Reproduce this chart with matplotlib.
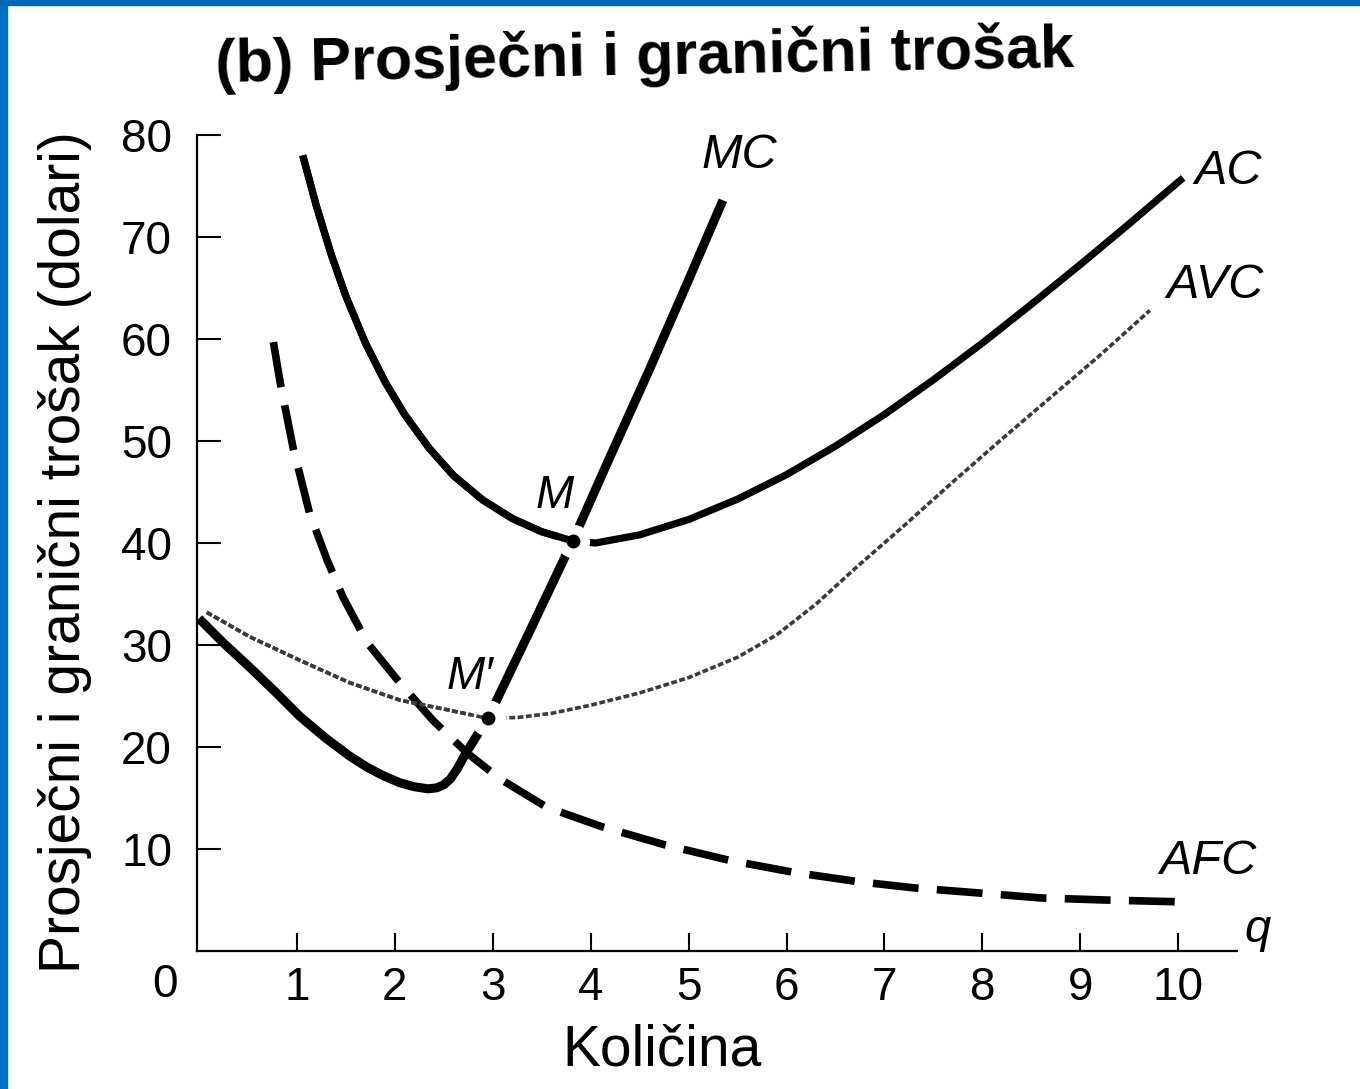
import matplotlib
matplotlib.use("Agg")
import matplotlib.pyplot as plt
from matplotlib.patches import Rectangle

plt.rcParams['font.family'] = ['Liberation Sans', 'DejaVu Sans']

# ---- data ----
mc_q = [0.0, 0.25, 0.52, 0.78, 1.03, 1.29, 1.54, 1.72, 1.88, 2.05, 2.2, 2.34, 2.43, 2.5, 2.57, 2.64, 2.72, 2.83, 2.95,
        3.4, 3.82, 4.2, 4.6, 5.0, 5.35]
mc_c = [32.6, 30.2, 27.8, 25.4, 23.0, 20.9, 19.1, 18.0, 17.2, 16.5, 16.1, 15.9, 16.0, 16.3, 16.9, 17.9, 19.3, 21.0, 22.8,
        31.8, 40.3, 48.5, 57.0, 65.8, 73.6]

ac_q = [1.06, 1.2, 1.35, 1.5, 1.7, 1.9, 2.1, 2.35, 2.6, 2.9, 3.2, 3.5, 3.82,
        4.05, 4.5, 5.0, 5.5, 6.0, 6.5, 7.0, 7.5, 8.0, 8.5, 9.0, 9.5, 10.05]
ac_c = [78.0, 73.0, 68.3, 64.2, 59.6, 55.8, 52.6, 49.3, 46.6, 44.2, 42.4, 41.1, 40.2,
        40.0, 40.8, 42.3, 44.3, 46.7, 49.5, 52.6, 56.0, 59.6, 63.4, 67.3, 71.3, 75.8]

avc_q = [0.08, 0.52, 1.03, 1.54, 2.05, 2.56, 2.95, 3.26, 3.6, 4.0, 4.5, 5.0, 5.5, 5.9,
         6.3, 6.7, 7.2, 7.7, 8.2, 8.7, 9.2, 9.71]
avc_c = [33.2, 30.8, 28.5, 26.3, 24.6, 23.6, 22.8, 22.9, 23.3, 24.1, 25.3, 26.8, 28.8, 31.0,
         34.0, 37.5, 41.7, 46.0, 50.2, 54.3, 58.4, 62.8]

afc_q = [0.76, 0.83, 0.96, 1.13, 1.31, 1.47, 1.72, 2.05, 2.39, 2.74, 3.07, 3.55, 4.11, 4.76, 5.41, 6.08,
         6.73, 7.29, 7.95, 8.6, 9.25, 10.1]
afc_c = [59.7, 55.7, 49.4, 42.9, 38.3, 34.7, 30.2, 26.3, 22.6, 19.4, 16.9, 14.1, 12.2, 10.4, 8.9, 7.7,
         6.8, 6.2, 5.7, 5.2, 5.0, 4.8]

point_M = (3.82, 40.2)
point_Mp = (2.95, 22.8)

y_ticks = [10, 20, 30, 40, 50, 60, 70, 80]
x_ticks = [1, 2, 3, 4, 5, 6, 7, 8, 9, 10]

W, H = 1360, 1089
fig = plt.figure(figsize=(W / 100, H / 100), dpi=100)
fig.patch.set_facecolor('white')

x0_px, x1_px, y0_px, y1_px = 197, 1237, 951, 135
ax = fig.add_axes([x0_px / W, 1 - y0_px / H, (x1_px - x0_px) / W, (y0_px - y1_px) / H])
ax.set_xlim(-0.02, 10.6)
ax.set_ylim(0, 80)
for s in ['top', 'right']:
    ax.spines[s].set_visible(False)
for s in ['left', 'bottom']:
    ax.spines[s].set_linewidth(1.6)
    ax.spines[s].set_color('black')

ax.set_yticks(y_ticks)
ax.set_yticklabels([str(v) for v in y_ticks])
ax.set_xticks(x_ticks)
ax.set_xticklabels([str(v) for v in x_ticks])
ax.tick_params(axis='y', direction='in', length=17, width=1.5, pad=18, labelsize=33)
ax.tick_params(axis='x', direction='in', length=13, width=1.5, pad=11, labelsize=33)

# curves
ax.plot(afc_q, afc_c, color='black', lw=5.5, linestyle=(0, (6, 2.4)), dash_capstyle='butt',
        solid_capstyle='butt', zorder=2, clip_on=False)
ax.plot(avc_q, avc_c, color='#3a3a3a', lw=2.6, linestyle=(0, (1.6, 0.7)), zorder=3, clip_on=False)
ax.plot(mc_q, mc_c, color='black', lw=6.5, solid_capstyle='butt', solid_joinstyle='round',
        zorder=4, clip_on=False)
ax.plot(ac_q, ac_c, color='black', lw=5.2, solid_capstyle='butt', solid_joinstyle='round',
        zorder=4, clip_on=False)

# white gaps around M and M'
ax.plot([point_M[0]], [point_M[1]], 'o', color='white', ms=24, mew=0, zorder=5)
ax.plot([point_Mp[0]], [point_Mp[1]], 'o', color='white', ms=26, mew=0, zorder=5)
# left branches reconnect into the points
ac_left = [(q, c) for q, c in zip(ac_q, ac_c) if q <= point_M[0]]
ax.plot([p[0] for p in ac_left], [p[1] for p in ac_left], color='black', lw=5.2, zorder=6,
        solid_capstyle='butt', solid_joinstyle='round')
avc_left = [(q, c) for q, c in zip(avc_q, avc_c) if q <= point_Mp[0]]
ax.plot([p[0] for p in avc_left], [p[1] for p in avc_left], color='#3a3a3a', lw=2.6,
        linestyle=(0, (1.6, 0.7)), zorder=6)
ax.plot([point_M[0]], [point_M[1]], 'o', color='black', ms=10, mew=0, zorder=7)
ax.plot([point_Mp[0]], [point_Mp[1]], 'o', color='black', ms=10, mew=0, zorder=7)


def fx(px):
    return px / W


def fy(py):
    return 1 - py / H


# curve labels
lab = dict(fontsize=35, style='italic', ha='center', va='center')
fig.text(fx(739), fy(155), 'MC', **lab)
fig.text(fx(1228), fy(172), 'AC', **lab)
fig.text(fx(1215), fy(285), 'AVC', **lab)
fig.text(fx(1208), fy(862), 'AFC', **lab)
fig.text(fx(555), fy(496), 'M', fontsize=33, style='italic', ha='center', va='center')
fig.text(fx(470), fy(677), 'M\u2032', fontsize=33, style='italic', ha='center', va='center')
fig.text(fx(1258), fy(930), 'q', fontsize=34, style='italic', ha='center', va='center')
fig.text(fx(165), fy(985), '0', fontsize=33, ha='center', va='center')

# titles
fig.text(fx(215), fy(66), '(b) Prosječni i granični trošak', fontsize=44, weight='bold',
         ha='left', va='center', rotation=1, rotation_mode='anchor')
fig.text(fx(65), fy(552), 'Prosječni i granični trošak (dolari)', fontsize=41, rotation=90,
         ha='center', va='center')
fig.text(fx(662), fy(1050), 'Količina', fontsize=41, ha='center', va='center')

# blue frame
fig.patches.append(Rectangle((0, 0), 7 / W, 1, transform=fig.transFigure, color='#0070C4', zorder=10))
fig.patches.append(Rectangle((0, 1 - 5 / H), 1, 5 / H, transform=fig.transFigure, color='#0068B4', zorder=10))

fig.savefig('out.png', dpi=100)
